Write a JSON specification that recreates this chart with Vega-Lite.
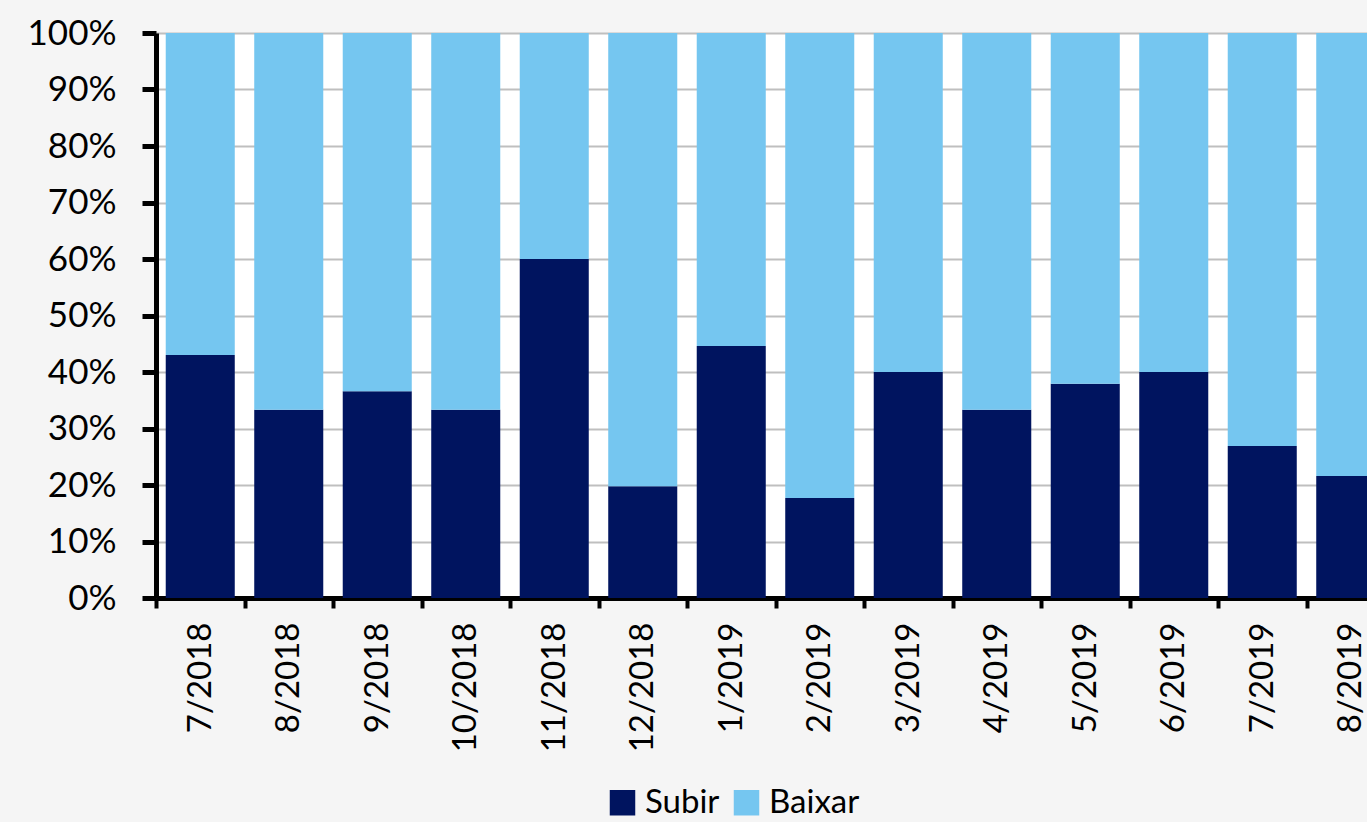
{
  "$schema": "https://vega.github.io/schema/vega-lite/v6.json",
  "autosize": "none",
  "width": 1239,
  "height": 565,
  "padding": {"left": 156, "top": 33, "right": 0, "bottom": 224},
  "background": "#f5f5f5",
  "view": {"fill": "#ffffff", "stroke": null},
  "data": {
    "values": [
      {"mes": "7/2018", "serie": "Subir", "valor": 43.0},
      {"mes": "7/2018", "serie": "Baixar", "valor": 57.0},
      {"mes": "8/2018", "serie": "Subir", "valor": 33.3},
      {"mes": "8/2018", "serie": "Baixar", "valor": 66.7},
      {"mes": "9/2018", "serie": "Subir", "valor": 36.6},
      {"mes": "9/2018", "serie": "Baixar", "valor": 63.4},
      {"mes": "10/2018", "serie": "Subir", "valor": 33.3},
      {"mes": "10/2018", "serie": "Baixar", "valor": 66.7},
      {"mes": "11/2018", "serie": "Subir", "valor": 60.0},
      {"mes": "11/2018", "serie": "Baixar", "valor": 40.0},
      {"mes": "12/2018", "serie": "Subir", "valor": 19.8},
      {"mes": "12/2018", "serie": "Baixar", "valor": 80.2},
      {"mes": "1/2019", "serie": "Subir", "valor": 44.6},
      {"mes": "1/2019", "serie": "Baixar", "valor": 55.4},
      {"mes": "2/2019", "serie": "Subir", "valor": 17.7},
      {"mes": "2/2019", "serie": "Baixar", "valor": 82.3},
      {"mes": "3/2019", "serie": "Subir", "valor": 40.0},
      {"mes": "3/2019", "serie": "Baixar", "valor": 60.0},
      {"mes": "4/2019", "serie": "Subir", "valor": 33.3},
      {"mes": "4/2019", "serie": "Baixar", "valor": 66.7},
      {"mes": "5/2019", "serie": "Subir", "valor": 37.9},
      {"mes": "5/2019", "serie": "Baixar", "valor": 62.1},
      {"mes": "6/2019", "serie": "Subir", "valor": 40.0},
      {"mes": "6/2019", "serie": "Baixar", "valor": 60.0},
      {"mes": "7/2019", "serie": "Subir", "valor": 26.9},
      {"mes": "7/2019", "serie": "Baixar", "valor": 73.1},
      {"mes": "8/2019", "serie": "Subir", "valor": 21.6},
      {"mes": "8/2019", "serie": "Baixar", "valor": 78.4}
    ]
  },
  "mark": {"type": "bar", "width": {"band": 0.78}},
  "encoding": {
    "x": {
      "field": "mes",
      "type": "nominal",
      "sort": null,
      "scale": {"paddingInner": 0, "paddingOuter": 0},
      "axis": {
        "title": null,
        "labelAngle": 270,
        "labelAlign": "right",
        "labelBaseline": "middle",
        "labelFont": "Lato",
        "labelFontSize": 33,
        "labelColor": "#000000",
        "labelPadding": 14,
        "tickBand": "extent",
        "tickSize": 10,
        "tickWidth": 4,
        "tickColor": "#000000",
        "domainColor": "#000000",
        "domainWidth": 5,
        "grid": false
      }
    },
    "y": {
      "field": "valor",
      "type": "quantitative",
      "stack": "zero",
      "scale": {"domain": [0, 100], "nice": false},
      "axis": {
        "title": null,
        "values": [0, 10, 20, 30, 40, 50, 60, 70, 80, 90, 100],
        "labelExpr": "datum.value + '%'",
        "labelFont": "Lato",
        "labelFontSize": 35,
        "labelColor": "#000000",
        "labelPadding": 26,
        "tickSize": 14,
        "tickWidth": 5,
        "tickColor": "#000000",
        "domainColor": "#000000",
        "domainWidth": 5,
        "grid": true,
        "gridColor": "#bfbfbf",
        "gridWidth": 2
      }
    },
    "color": {
      "field": "serie",
      "type": "nominal",
      "scale": {"domain": ["Subir", "Baixar"], "range": ["#00145f", "#75c6f0"]},
      "legend": {
        "title": null,
        "orient": "none",
        "direction": "horizontal",
        "legendX": 450,
        "legendY": 753,
        "symbolType": "square",
        "symbolSize": 650,
        "symbolStrokeWidth": 0,
        "symbolOpacity": 1,
        "labelFont": "Lato",
        "labelFontSize": 33,
        "labelColor": "#000000",
        "columnPadding": 10,
        "labelOffset": 6
      }
    },
    "order": {"field": "serie", "sort": "descending"}
  }
}
